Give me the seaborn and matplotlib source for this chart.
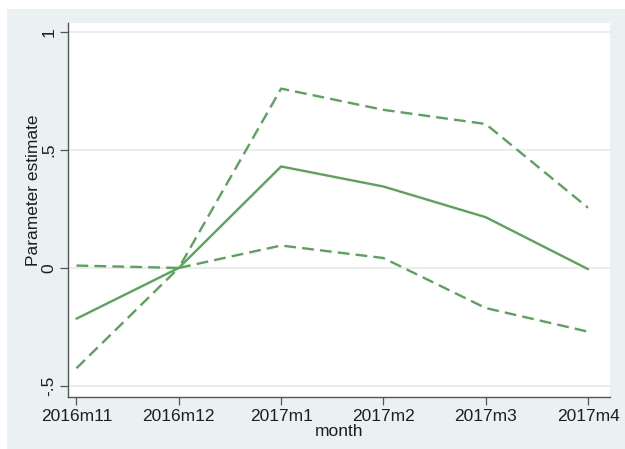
import matplotlib
matplotlib.use("Agg")
import matplotlib.pyplot as plt
from matplotlib.patches import Rectangle
import pandas as pd
import seaborn as sns

# Event-study estimates with 95% confidence bounds, by month
months = ["2016m11", "2016m12", "2017m1", "2017m2", "2017m3", "2017m4"]
estimate = [-0.215, 0.0, 0.43, 0.345, 0.215, -0.005]
upper_ci = [0.01, 0.0, 0.76, 0.67, 0.61, 0.255]
lower_ci = [-0.425, 0.0, 0.095, 0.042, -0.17, -0.27]

y_ticks = [-0.5, 0.0, 0.5, 1.0]
y_tick_labels = ["-.5", "0", ".5", "1"]

sns.set_theme(style="white")
plt.rcParams["font.family"] = ["Liberation Sans", "DejaVu Sans"]

green = "#5ba35b"
text_c = "#1e1e1e"
axis_c = "#555555"
fs = 12.5

df = pd.DataFrame({
    "pos": list(range(len(months))) * 3,
    "value": estimate + upper_ci + lower_ci,
    "series": ["estimate"] * len(months) + ["upper"] * len(months) + ["lower"] * len(months),
})

fig = plt.figure(figsize=(6.25, 4.49), dpi=100)
fig.patch.set_facecolor("white")
# graph region background
fig.add_artist(Rectangle((7 / 625, 0), 1, (449 - 9) / 449, transform=fig.transFigure,
                         facecolor="#eaf1f3", edgecolor="none", zorder=0))

ax = fig.add_axes([68 / 625, 1 - 397 / 449, (610 - 68) / 625, (397 - 23) / 449])
ax.set_facecolor("white")

for yt in y_ticks:
    ax.axhline(yt, color="#ebebeb", lw=1.3, zorder=1)

sns.lineplot(data=df[df.series == "estimate"], x="pos", y="value", ax=ax,
             color=green, lw=1.7, zorder=3)
for s in ["upper", "lower"]:
    sns.lineplot(data=df[df.series == s], x="pos", y="value", ax=ax,
                 color=green, lw=1.7, dashes=False, zorder=3,
                 linestyle=(0, (5, 2.6)))

ax.set_xlim(-0.083, 5.215)
ax.set_ylim(-0.547, 1.038)

ax.set_xticks(range(len(months)))
ax.set_xticklabels(months)
ax.set_yticks(y_ticks)
ax.set_yticklabels(y_tick_labels, rotation=90, va="center")

ax.tick_params(axis="both", which="major", direction="out", length=5.5, width=0.9,
               color=axis_c, labelcolor=text_c, labelsize=fs, pad=3, left=True, bottom=True)

for side in ["top", "right"]:
    ax.spines[side].set_visible(False)
for side in ["left", "bottom"]:
    ax.spines[side].set_color(axis_c)
    ax.spines[side].set_linewidth(1.0)

ax.set_xlabel("month", fontsize=fs, color=text_c)
ax.set_ylabel("Parameter estimate", fontsize=fs, color=text_c)
ax.xaxis.label.set_va("center")
ax.yaxis.label.set_va("center")
ax.xaxis.set_label_coords(0.5, (397 - 431) / 374)
ax.yaxis.set_label_coords((34 - 68) / 542, (397 - 190) / 374)

ax.grid(False)
fig.savefig("out.png", dpi=100, facecolor="white")
